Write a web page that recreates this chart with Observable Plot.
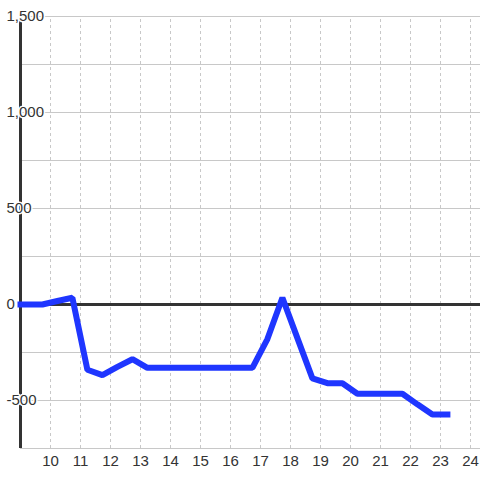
<!DOCTYPE html>
<html>
<head>
<meta charset="utf-8">
<script src="https://cdn.jsdelivr.net/npm/d3@7"></script>
<script src="https://cdn.jsdelivr.net/npm/@observablehq/plot@0.6"></script>
<style>
  html, body { margin: 0; padding: 0; background: #fff; }
</style>
</head>
<body>
<div id="chart"></div>
<script>
const xValues = [9.0, 9.73, 10.23, 10.73, 11.23, 11.73, 12.23, 12.73, 13.23, 13.73, 14.23, 14.73, 15.23, 15.73, 16.23, 16.73, 17.23, 17.73, 18.23, 18.73, 19.23, 19.73, 20.23, 20.73, 21.23, 21.73, 22.23, 22.73, 23.23];
const yValues = [0, 0, 18, 35, -340, -368, -325, -285, -330, -330, -330, -330, -330, -330, -330, -330, -180, 35, -175, -385, -410, -410, -465, -465, -465, -465, -520, -573, -573];
const xTicks = [10, 11, 12, 13, 14, 15, 16, 17, 18, 19, 20, 21, 22, 23, 24];
const yTickLabels = [1500, 1000, 500, 0, -500];
const yGrid = [1500, 1250, 1000, 750, 500, 250, -250, -500, -750];

const data = xValues.map((x, i) => ({x, y: yValues[i]}));

const chart = Plot.plot({
  width: 480,
  height: 480,
  marginLeft: 20,
  marginRight: 0,
  marginTop: 16,
  marginBottom: 32,
  style: {fontFamily: "'Liberation Sans', Arial, sans-serif", fontSize: "15px", color: "#333", background: "#fff", overflow: "visible"},
  x: {domain: [9, 24.3333]},
  y: {domain: [-750, 1500], axis: null},
  marks: [
    Plot.ruleY(yGrid, {stroke: "#c8c8c8", strokeWidth: 1}),
    Plot.ruleX(xTicks, {y1: -750, y2: 1500, stroke: "#c8c8c8", strokeWidth: 1, strokeDasharray: "3,3"}),
    Plot.ruleX([9], {y1: -750, y2: 1500, stroke: "#333", strokeWidth: 3}),
    Plot.ruleY([0], {stroke: "#333", strokeWidth: 3}),
    Plot.text(yTickLabels, {
      y: d => d,
      text: d => d.toLocaleString("en-US"),
      frameAnchor: "left",
      dx: -14,
      textAnchor: "start",
      fill: "#333",
      stroke: "white",
      strokeWidth: 3,
      fontSize: 15
    }),
    Plot.axisX({ticks: xTicks, tickSize: 0, tickPadding: 7, fontSize: 15, label: null, tickFormat: d => String(d)}),
    Plot.line(data, {x: "x", y: "y", stroke: "#1f36ff", strokeWidth: 6, strokeLinejoin: "miter", strokeLinecap: "square"})
  ]
});
document.getElementById("chart").appendChild(chart);
</script>
</body>
</html>
